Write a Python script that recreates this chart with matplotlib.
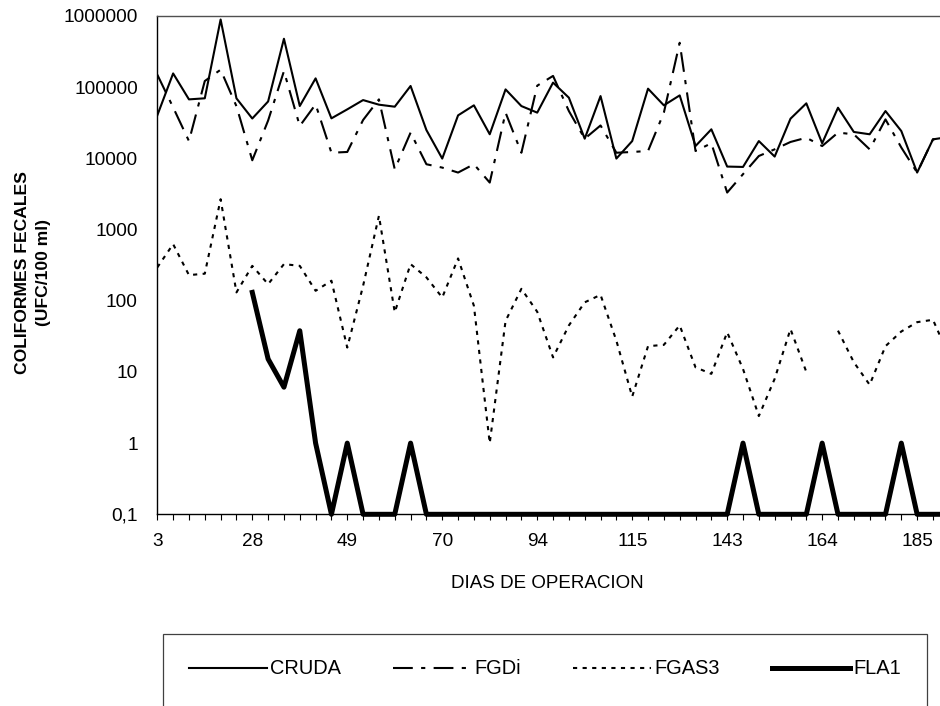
import numpy as np
import matplotlib
matplotlib.use("Agg")
import matplotlib.pyplot as plt
from matplotlib.patches import Rectangle
from matplotlib.ticker import NullLocator

nan = np.nan

# ---- data ----
dias_etiquetas = ['3', '28', '49', '70', '94', '115', '143', '164', '185']
etiqueta_cada = 6

cruda = [40200, 156000, 67400, 69800, 893000, 69700, 36300, 63000, 479000, 54400,
         133000, 36500, 48800, 65900, 56800, 53200, 104000, 25000, 9930, 40200,
         55600, 21800, 93100, 54300, 43900, 116000, 71200, 18900, 75000, 9930,
         17500, 95300, 55600, 76700, 14900, 25600, 7670, 7580, 17500, 10600,
         36100, 59300, 16300, 51500, 23500, 21800, 46200, 24200, 6320, 18500,
         20000]

fgdi = [150000, 52000, 17500, 122000, 176000, 54000, 9400, 34000, 168000, 28500,
        57400, 12000, 12300, 34600, 67400, 7030, 23000, 8270, 7420, 6320,
        8270, 4570, 43900, 12000, 105000, 144000, 46200, 18900, 29000, 12000,
        12300, 12700, 43900, 421000, 12700, 16300, 3310, 6000, 10800, 13400,
        17000, 19500, 14900, 23000, 21800, 13400, 35300, 14200, 6320, 18500,
        19500]

fgas3 = [294, 624, 229, 240, 2670, 131, 309, 171, 327, 309,
         138, 191, 22, 162, 1560, 69, 327, 213, 111, 393,
         85, 1.0, 52, 147, 70, 16, 45, 95, 121, 27.5,
         4.5, 23, 24, 45, 11.6, 9.4, 36, 11, 2.4, 8,
         40, 10, nan, 38, 13.7, 6.6, 23, 37, 50, 54,
         17]

fla1 = [nan, nan, nan, nan, nan, nan, 131, 15.2, 6.1, 37.9,
        1, 0.1, 1, 0.1, 0.1, 0.1, 1, 0.1, 0.1, 0.1,
        0.1, 0.1, 0.1, 0.1, 0.1, 0.1, 0.1, 0.1, 0.1, 0.1,
        0.1, 0.1, 0.1, 0.1, 0.1, 0.1, 0.1, 1, 0.1, 0.1,
        0.1, 0.1, 1, 0.1, 0.1, 0.1, 0.1, 1, 0.1, 0.1,
        0.1]

y_ticks = [0.1, 1, 10, 100, 1000, 10000, 100000, 1000000]
y_tick_labels = ['0,1', '1', '10', '100', '1000', '10000', '100000', '1000000']

# ---- figure ----
plt.rcParams['font.family'] = ['Liberation Sans', 'DejaVu Sans']

W, H = 940, 706
fig = plt.figure(figsize=(W / 100, H / 100), dpi=100)
fig.patch.set_facecolor('white')

x0, x1 = 157.3, 948.8
ytop, ybot = 16.0, 514.3
ax = fig.add_axes([x0 / W, 1 - ybot / H, (x1 - x0) / W, (ybot - ytop) / H])

x = np.arange(len(cruda))
ax.plot(x, cruda, color='black', lw=1.5, ls='-', label='CRUDA')
ax.plot(x, fgdi, color='black', lw=1.5, ls=(0, (9.5, 4, 2, 4)), label='FGDi')
ax.plot(x, fgas3, color='black', lw=1.5, ls=(0, (2, 2.6)), label='FGAS3')
ax.plot(x, fla1, color='black', lw=3.6, ls='-', label='FLA1', clip_on=False, zorder=5)

ax.set_yscale('log')
ax.set_ylim(0.1, 1e6)
ax.set_xlim(0, len(cruda) - 1)
ax.set_yticks(y_ticks)
ax.set_yticklabels(y_tick_labels)
ax.yaxis.set_minor_locator(NullLocator())
ax.tick_params(axis='y', length=0, pad=14, labelsize=13.7)

xlabels = [''] * len(x)
for k, d in enumerate(dias_etiquetas):
    xlabels[k * etiqueta_cada] = d
ax.set_xticks(x)
ax.set_xticklabels(xlabels)
ax.xaxis.set_minor_locator(NullLocator())
ax.tick_params(axis='x', direction='out', length=4.5, width=0.8, pad=9, labelsize=13.7)

ax.spines['right'].set_visible(False)
ax.spines['top'].set_color('#505050')
ax.spines['top'].set_linewidth(1.0)
ax.spines['left'].set_linewidth(1.0)
ax.spines['bottom'].set_linewidth(1.0)

fig.text(33 / W, 1 - 273 / H, 'COLIFORMES FECALES\n(UFC/100 ml)', rotation=90,
         ha='center', va='center', fontsize=12.6, fontweight='bold',
         multialignment='center', linespacing=1.5)
fig.text(547 / W, 1 - 583 / H, 'DIAS DE OPERACION', ha='center', va='center',
         fontsize=13.5)

handles, labels = ax.get_legend_handles_labels()
fig.legend(handles, labels, loc='center', ncol=4, mode='expand',
           bbox_to_anchor=(163 / W, 1 - 702 / H, 764 / W, 66 / H),
           bbox_transform=fig.transFigure, frameon=False, fontsize=14.4,
           handlelength=3.9, handletextpad=0.15, borderpad=1.3, borderaxespad=0)
fig.add_artist(Rectangle((163 / W, -0.1), (927 - 163) / W, (1 - 634 / H) + 0.1,
                         transform=fig.transFigure, fill=False,
                         edgecolor='#404040', lw=0.9))

fig.savefig('out.png', dpi=100)
